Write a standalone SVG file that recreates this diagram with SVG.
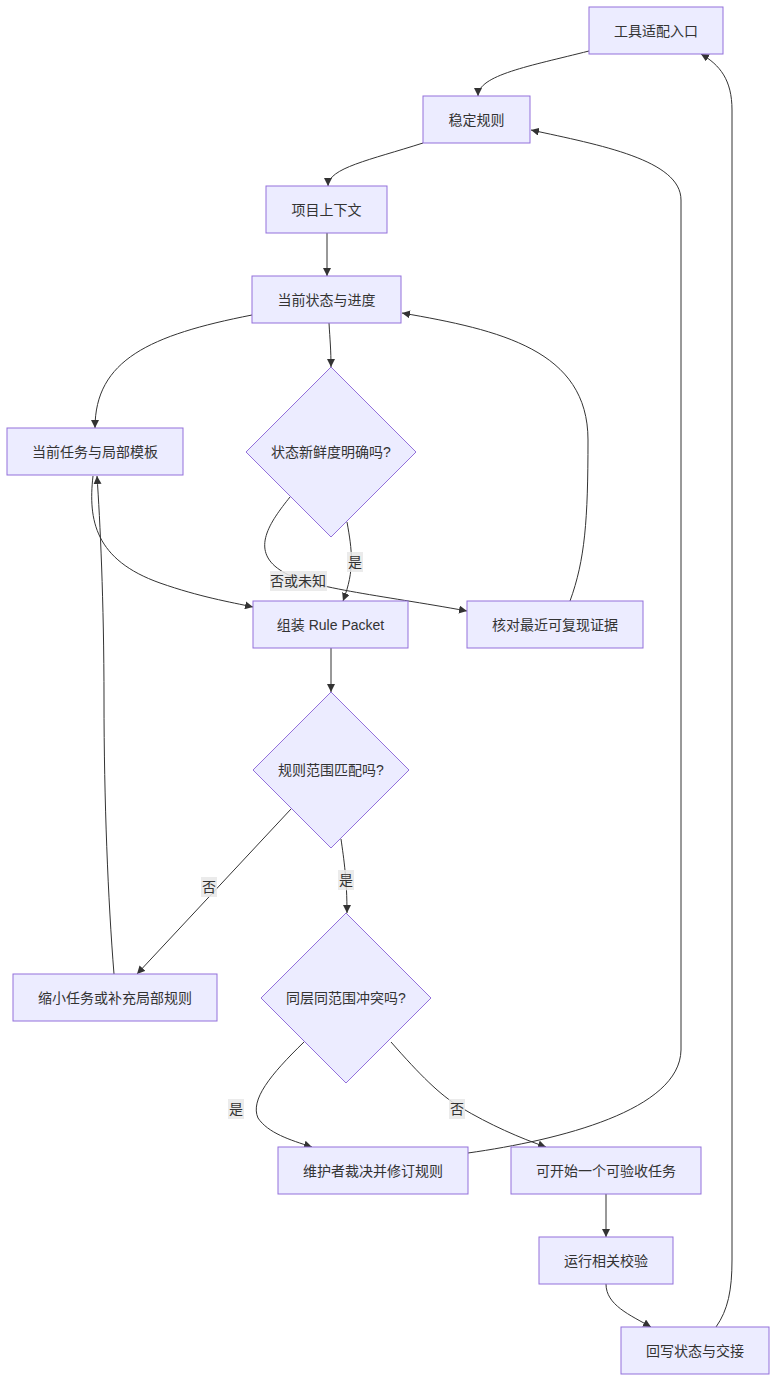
<svg xmlns="http://www.w3.org/2000/svg" width="784" height="1395" viewBox="0 0 784 1395">
<style>
.n rect,.n polygon{fill:#ECECFF;stroke:#9370DB;stroke-width:1}
text{font-family:"Liberation Sans","Noto Sans CJK SC",sans-serif;font-size:14px;fill:#333;text-anchor:middle;dominant-baseline:central}
.e path{fill:none;stroke:#333;stroke-width:1}
.lb{fill:#e8e8e8;opacity:0.85}
</style>
<defs>
<marker id="arr" viewBox="0 0 10 10" refX="10" refY="5" markerUnits="userSpaceOnUse" markerWidth="8" markerHeight="8" orient="auto">
<path d="M0,0 L10,5 L0,10 z" fill="#333"/>
</marker>
</defs>
<rect width="784" height="1395" fill="#fff"/>
<g id="edges" class="e">
<path marker-end="url(#arr)" d="M589,51 C530,66 478,75 478,96"/>
<path marker-end="url(#arr)" d="M423,143 C370,160 328,168 328,186"/>
<path marker-end="url(#arr)" d="M327,233 L327,276"/>
<path marker-end="url(#arr)" d="M252,315 C150,335 95,360 95,428"/>
<path marker-end="url(#arr)" d="M329,323 C330,340 331,350 331,367"/>
<path marker-end="url(#arr)" d="M570,601 C585,560 588,520 588,440 C588,350 500,330 402,313"/>
<path marker-end="url(#arr)" d="M347,522 C352,550 355,570 343,601"/>
<path marker-end="url(#arr)" d="M290,497 C270,522 250,550 280,570 C305,588 380,595 467,611"/>
<path marker-end="url(#arr)" d="M93,476 C88,520 95,560 160,583 C200,597 230,602 253,607"/>
<path marker-end="url(#arr)" d="M114,974 C108,900 104,800 104,700 C104,600 100,520 97,476"/>
<path marker-end="url(#arr)" d="M331,648 L331,692"/>
<path marker-end="url(#arr)" d="M291,809 L137,974"/>
<path marker-end="url(#arr)" d="M341,839 C344,860 347,880 347,913"/>
<path marker-end="url(#arr)" d="M304,1042 C270,1075 250,1100 258,1118 C268,1133 290,1140 312,1147"/>
<path marker-end="url(#arr)" d="M391,1042 C420,1075 440,1095 460,1107 C490,1125 520,1138 546,1147"/>
<path marker-end="url(#arr)" d="M468,1153 C560,1140 680,1110 681,1050 L681,200 C681,160 600,145 531,130"/>
<path marker-end="url(#arr)" d="M606,1194 L606,1237"/>
<path marker-end="url(#arr)" d="M606,1284 C606,1305 630,1315 651,1327"/>
<path marker-end="url(#arr)" d="M716,1327 C728,1310 732,1290 732,1260 L732,110 C732,80 720,65 701,54"/>
</g>
<g id="edge-labels">
<rect class="lb" x="347" y="552" width="16" height="20"/><text x="355" y="562">是</text>
<rect class="lb" x="270" y="571" width="57" height="20"/><text x="298" y="581">否或未知</text>
<rect class="lb" x="201" y="877" width="16" height="20"/><text x="209" y="887">否</text>
<rect class="lb" x="338" y="870" width="16" height="20"/><text x="346" y="880">是</text>
<rect class="lb" x="228" y="1099" width="16" height="20"/><text x="236" y="1109">是</text>
<rect class="lb" x="449" y="1099" width="16" height="20"/><text x="457" y="1109">否</text>
</g>
<g id="n1" class="n"><rect x="589" y="7" width="134" height="47"/><text x="656" y="30.5">工具适配入口</text></g>
<g id="n2" class="n"><rect x="423" y="96" width="107" height="47"/><text x="476.5" y="119.5">稳定规则</text></g>
<g id="n3" class="n"><rect x="266" y="186" width="121" height="47"/><text x="326.5" y="209.5">项目上下文</text></g>
<g id="n4" class="n"><rect x="252" y="276" width="149" height="47"/><text x="326.5" y="299.5">当前状态与进度</text></g>
<g id="n5" class="n"><polygon points="331,367 416,452 331,537 246,452"/><text x="331" y="452">状态新鲜度明确吗?</text></g>
<g id="n6" class="n"><rect x="7" y="428" width="176" height="47"/><text x="95" y="451.5">当前任务与局部模板</text></g>
<g id="n7" class="n"><rect x="253" y="601" width="155" height="47"/><text x="330.5" y="624.5">组装 Rule Packet</text></g>
<g id="n8" class="n"><rect x="467" y="601" width="176" height="47"/><text x="555" y="624.5">核对最近可复现证据</text></g>
<g id="n9" class="n"><polygon points="331,692 409,770 331,848 253,770"/><text x="331" y="770">规则范围匹配吗?</text></g>
<g id="n10" class="n"><rect x="13" y="974" width="204" height="47"/><text x="115" y="997.5">缩小任务或补充局部规则</text></g>
<g id="n11" class="n"><polygon points="346,913 431,998 346,1083 261,998"/><text x="346" y="998">同层同范围冲突吗?</text></g>
<g id="n12" class="n"><rect x="278" y="1147" width="190" height="47"/><text x="373" y="1170.5">维护者裁决并修订规则</text></g>
<g id="n13" class="n"><rect x="511" y="1147" width="190" height="47"/><text x="606" y="1170.5">可开始一个可验收任务</text></g>
<g id="n14" class="n"><rect x="539" y="1237" width="134" height="47"/><text x="606" y="1260.5">运行相关校验</text></g>
<g id="n15" class="n"><rect x="621" y="1327" width="148" height="47"/><text x="695" y="1350.5">回写状态与交接</text></g>
</svg>
